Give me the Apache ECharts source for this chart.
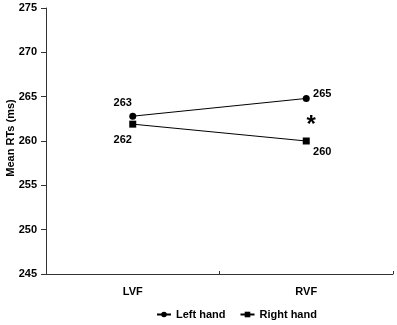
<!DOCTYPE html>
<html>
<head>
<meta charset="utf-8">
<script src="https://cdn.jsdelivr.net/npm/echarts@6/dist/echarts.min.js"></script>
<style>
  html, body { margin: 0; padding: 0; background: #fff; }
  #chart { width: 397px; height: 325px; }
</style>
</head>
<body>
<div id="chart"></div>
<script>
const categories = ["LVF", "RVF"];
const leftHand   = [262.8, 264.8];
const rightHand  = [261.9, 260.0];
const leftLabels  = ["263", "265"];
const rightLabels = ["262", "260"];
const starPos = ["RVF", 262.5];

const FONT = "Liberation Sans, Arial, sans-serif";
const txt = { color: "#000", fontFamily: FONT, fontWeight: "bold", fontSize: 11 };

const chart = echarts.init(document.getElementById("chart"));

chart.setOption({
  animation: false,
  backgroundColor: "#fff",
  grid: { left: 46, right: 4, top: 8, bottom: 51, outerBoundsMode: "none", containLabel: false },
  legend: {
    top: 304, left: 151, itemGap: 14,
    itemWidth: 14, itemHeight: 7,
    textStyle: { ...txt, fontSize: 11 },
    data: ["Left hand", "Right hand"],
  },
  xAxis: {
    type: "category", data: categories, boundaryGap: true,
    axisLine: { lineStyle: { color: "#333", width: 1 } },
    axisTick: { show: true, inside: true, length: 3, lineStyle: { color: "#333" } },
    axisLabel: { ...txt, margin: 12 },
  },
  yAxis: {
    type: "value", min: 245, max: 275, interval: 5,
    name: "Mean RTs (ms)", nameLocation: "middle", nameGap: 30, nameMoveOverlap: false,
    nameTextStyle: { ...txt, fontSize: 11, padding: [0, 0, 0, 6] },
    axisLine: { show: true, lineStyle: { color: "#333", width: 1 } },
    axisTick: { show: true, length: 5, lineStyle: { color: "#333" } },
    axisLabel: { ...txt, margin: 9 },
    splitLine: { show: false },
  },
  series: [
    {
      name: "Left hand", type: "line", data: leftHand,
      symbol: "circle", symbolSize: 7,
      lineStyle: { color: "#000", width: 1 },
      itemStyle: { color: "#000" },
      label: {
        show: true, ...txt,
        formatter: p => leftLabels[p.dataIndex],
        position: "top",
      },
      labelLayout: p => p.dataIndex === 0 ? { dx: -10, dy: 1 } : { dx: 16, dy: 10 },
      markPoint: {
        symbol: "circle", symbolSize: 1, itemStyle: { color: "transparent" },
        label: { show: true, formatter: "*", color: "#000", fontFamily: FONT, fontWeight: "bold", fontSize: 24, offset: [5, 7] },
        data: [{ coord: starPos }],
      },
    },
    {
      name: "Right hand", type: "line", data: rightHand,
      symbol: "rect", symbolSize: 7,
      lineStyle: { color: "#000", width: 1 },
      itemStyle: { color: "#000" },
      label: {
        show: true, ...txt,
        formatter: p => rightLabels[p.dataIndex],
        position: "bottom",
      },
      labelLayout: p => p.dataIndex === 0 ? { dx: -10, dy: 2 } : { dx: 16, dy: -3 },
    },
  ],
});
</script>
</body>
</html>
